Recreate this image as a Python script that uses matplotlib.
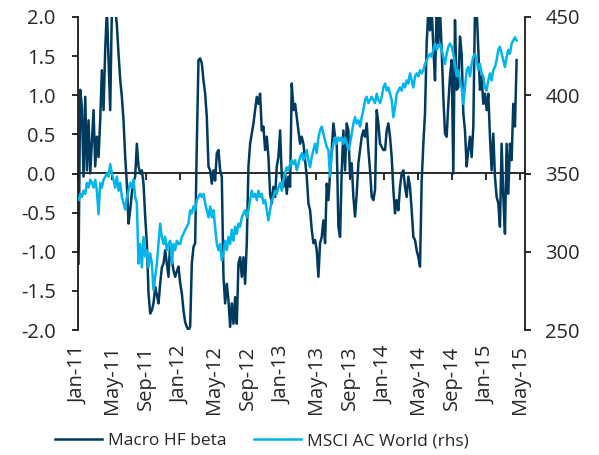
import matplotlib
matplotlib.use('Agg')
import matplotlib.pyplot as plt
import matplotlib.ticker as mticker
import pandas as pd
import numpy as np

plt.rcParams['font.family'] = ['Open Sans', 'DejaVu Sans']

# ---- data (roughly weekly) ----
start_date = '2011-01-03'
end_date = '2015-04-19'

beta_2011 = [-1.15, 1.07, 0.85, -0.04, 0.98, 0.04, 0.68, 0.0, 0.40, 0.81,
             0.09, 0.47, 0.21, 0.68, 1.32, 0.81, 1.58, 2.1, 1.45, 0.81,
             2.1, 2.1, 2.1, 1.9, 1.53, 1.2, 0.98, 0.68, 0.21, -0.13,
             -0.64, -0.47, -0.25, -0.1, -0.04, 0.38, 0.09, 0.0, 0.04, -0.13,
             -0.55, -0.89, -1.53, -1.79, -1.75, -1.66, -1.45, -1.55, -1.66, -1.41,
             -1.2, -1.15, -0.98, -1.15, -1.32, -0.89, -1.1, -1.24, -1.32, -1.25,
             -1.19, -1.4, -1.53, -1.75, -1.9, -1.96, -2.0]
beta_2012 = [-1.96, -1.15, -0.94, -0.89, 0.38, 1.45, 1.47, 1.41, 1.19, 1.02,
             0.72, 0.09, 0.04, -0.13, 0.04, -0.09, 0.26, 0.30, 0.04, -0.04,
             -1.32, -1.66, -1.41, -1.62, -1.96, -1.66, -1.92, -1.58, -1.92, -1.15,
             -1.07, -1.32, -1.07, -1.41, -0.89, 0.09, 0.38, 0.51, 0.64, 0.81,
             0.98, 0.89, 1.02, 0.55, 0.60, 0.30, 0.47, 0.21, -0.26, -0.38,
             -0.17, -0.30, 0.09, 0.21, 0.55, -0.04, -0.17, 0.0, -0.26, -0.04,
             -0.17, 1.15, 0.81, 0.89, 0.72, 0.55, 0.38, 0.47, 0.38]
beta_2013 = [0.17, -0.04, -0.38, -0.47, -0.72, -0.89, -0.85, -0.98, -1.32, -0.89,
             -0.81, -0.60, -0.89, -0.13, -0.34, 0.0, 0.30, 0.64, 0.47, 0.38,
             -0.68, -0.81, 0.04, 0.55, 0.04, 0.64, 0.55, -0.04, 0.13, -0.30,
             -0.55, -0.26, 0.13, 0.30, 0.47, 0.55, 0.47, 0.64, 0.30, 0.04,
             -0.30, -0.34, -0.21, 0.81, 0.64, 0.38, 0.34, 0.30, 0.30, 0.55,
             0.64, 0.47, 0.21, -0.21, -0.51, -0.34, -0.47, -0.17, 0.0, 0.04,
             -0.17, -0.30, -0.04]
beta_2014 = [-0.17, -0.47, -0.81, -0.85, -0.98, -1.07, -1.19, -0.10, 0.38, 0.77,
             1.66, 2.1, 1.83, 2.1, 1.62, 1.19, 2.1, 1.66, 2.1, 1.58,
             0.98, 0.51, 0.47, 0.89, 1.24, 1.45, 0.0, 1.96, 1.07, 1.10,
             1.75, 1.53, 0.77, 0.55, 0.09, 0.30, 0.47, 0.21, 0.60, 2.1,
             2.1, 1.58, 1.07, 1.24, 0.89, 1.02, 0.81, 1.02, 0.47, 0.04,
             0.51, -0.04, -0.30, -0.38, -0.68, 0.38, -0.30, -0.77, 0.38, -0.26,
             0.38, 0.17, 0.89, 0.60, 1.45]

msci_2011 = [333, 337, 335, 339, 337, 344, 341, 346, 344, 341,
             346, 339, 324, 344, 341, 346, 348, 350, 348, 356,
             350, 346, 341, 348, 339, 344, 335, 331, 327, 335,
             339, 344, 341, 346, 335, 331, 292.5, 305, 290, 309.5,
             297, 301, 290, 299, 292.5, 275.5, 284, 292.5, 305, 318,
             309.5, 305, 309.5, 301, 305, 307, 292.5, 305, 301, 307,
             305, 305, 309.5, 311.5, 314, 316, 318]
msci_2012 = [326.5, 324.5, 329, 326.5, 333, 335, 337, 335, 337, 331,
             326.5, 322, 329, 322, 326.5, 316, 305, 301, 305, 294.5,
             299, 307, 301, 309.5, 305, 314, 307, 316, 311.5, 318,
             316, 322, 324.5, 326.5, 322, 326.5, 333, 339, 335, 337,
             333, 339, 335, 337, 331, 333, 326.5, 320, 326.5, 333,
             335, 339, 337, 341, 344, 339, 346, 350, 354, 352,
             356, 358.5, 356, 358.5, 352, 356, 360.5, 363, 358.5]
msci_2013 = [360.5, 365, 358.5, 354, 360.5, 365, 369, 363, 373, 377.5,
             380, 375.5, 371, 367, 365, 348, 363, 369, 373, 369,
             373, 371, 373, 369, 373, 369, 365, 369, 375.5, 382,
             386, 382, 384, 380, 386, 390.5, 397, 399, 395, 397,
             399, 397, 395, 401, 397, 395, 399, 405, 407.5, 403,
             405, 401, 397, 386, 392.5, 401, 403, 405, 403, 407.5,
             405, 409.5, 407.5]
msci_2014 = [414, 409.5, 405, 412, 414, 412, 416, 414, 416, 420,
             422.5, 424.5, 426.5, 424.5, 429, 433, 429, 431, 433, 429,
             424.5, 420, 426.5, 431, 433, 431, 426.5, 420, 412, 416,
             409.5, 405, 394.5, 405, 416, 418, 412, 420, 424.5, 426.5,
             422.5, 416, 420, 414, 412, 405, 403, 409.5, 414, 409.5,
             416, 418, 422.5, 429, 431, 426.5, 422.5, 418, 424.5, 429,
             426.5, 433, 435, 437, 435]

tick_dates = ['2011-01-01', '2011-05-01', '2011-09-01', '2012-01-01', '2012-05-01',
              '2012-09-01', '2013-01-01', '2013-05-01', '2013-09-01', '2014-01-01',
              '2014-05-01', '2014-09-01', '2015-01-01', '2015-05-01']
tick_labels = ['Jan-11', 'May-11', 'Sep-11', 'Jan-12', 'May-12', 'Sep-12', 'Jan-13',
               'May-13', 'Sep-13', 'Jan-14', 'May-14', 'Sep-14', 'Jan-15', 'May-15']
left_ticks = [-2.0, -1.5, -1.0, -0.5, 0.0, 0.5, 1.0, 1.5, 2.0]
right_ticks = [250, 300, 350, 400, 450]

series_names = ['Macro HF beta', 'MSCI AC World (rhs)']

# ---- build ----
beta = beta_2011 + beta_2012 + beta_2013 + beta_2014
msci = msci_2011 + msci_2012 + msci_2013 + msci_2014
dates = pd.date_range(start_date, end_date, periods=len(beta))
tdates = pd.to_datetime(tick_dates)

DARK = '#003A5F'
LIGHT = '#00B5EA'
TXT = '#262626'
AXC = '#1a1a1a'
TS = 14.5

fig = plt.figure(figsize=(5.99, 4.55), dpi=100)
W, H = 599, 455
ax = fig.add_axes([78 / W, 1 - 330 / H, (525 - 78) / W, (330 - 17) / H])

l1, = ax.plot(dates, beta, color=DARK, lw=1.8, solid_joinstyle='round')
ax.set_ylim(-2, 2)
ax.set_xlim(pd.Timestamp('2011-01-01'), pd.Timestamp('2015-05-19'))
ax.set_yticks(left_ticks)
ax.yaxis.set_major_formatter(mticker.FormatStrFormatter('%.1f'))
for s in ['top', 'right', 'bottom']:
    ax.spines[s].set_visible(False)
ax.spines['left'].set_color(AXC)
ax.spines['left'].set_linewidth(1.3)
ax.tick_params(axis='y', length=4.5, width=1.3, color=AXC, pad=11.5,
               labelsize=TS, labelcolor=TXT)
ax.set_xticks(tdates)
ax.set_xticklabels(tick_labels, rotation=90)
ax.tick_params(axis='x', length=0, pad=11, labelsize=TS, labelcolor=TXT)

# zero axis with tick marks
sec = ax.secondary_xaxis(0.5)
sec.set_xticks(tdates)
sec.tick_params(axis='x', direction='in', length=5, width=1.3, color=AXC,
                labeltop=False, labelbottom=False)
sec.spines['top'].set_color(AXC)
sec.spines['top'].set_linewidth(1.3)
sec.spines['bottom'].set_visible(False)

ax2 = ax.twinx()
l2, = ax2.plot(dates, msci, color=LIGHT, lw=1.8, solid_joinstyle='round')
ax2.set_ylim(250, 450)
ax2.set_yticks(right_ticks)
for s in ['top', 'left', 'bottom']:
    ax2.spines[s].set_visible(False)
ax2.spines['right'].set_color(AXC)
ax2.spines['right'].set_linewidth(1.3)
ax2.tick_params(axis='y', length=4.5, width=1.3, color=AXC, pad=10,
                labelsize=TS, labelcolor=TXT)

fig.legend([l1, l2], series_names, loc='center', bbox_to_anchor=(262 / W, 1 - 441 / H),
           ncol=2, frameon=False, fontsize=12.5, handlelength=2.7, handletextpad=0.35,
           columnspacing=1.6, labelcolor=TXT)

fig.savefig('out.png', dpi=100)
